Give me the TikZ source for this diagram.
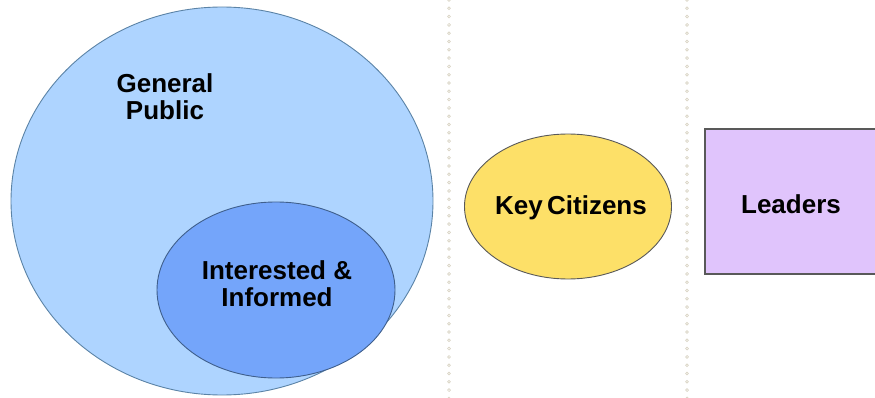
\documentclass[tikz,border=0pt]{standalone}
\usepackage{fontspec}
\setmainfont{Liberation Sans}
\usepackage{tikz}
\usetikzlibrary{shapes.geometric}

\definecolor{publicblue}{HTML}{AED4FF}
\definecolor{publicedge}{HTML}{5B83A6}
\definecolor{informedblue}{HTML}{74A5FA}
\definecolor{informededge}{HTML}{3F5F8C}
\definecolor{citizenyellow}{HTML}{FDE068}
\definecolor{leaderlilac}{HTML}{E0C4FC}
\definecolor{dotgrey}{HTML}{D9D4C4}

\tikzset{
  label text/.style={font=\fontsize{26}{27}\selectfont\bfseries, align=center, text=black},
  group/.style={ellipse, inner sep=0pt}
}

\begin{document}
\begin{tikzpicture}[x=1pt, y=-1pt]
   \useasboundingbox (0,0) rectangle (875,398);

   % dotted separators
   \foreach \sx in {449, 687}
     \foreach \sy in {0, 8.3, ..., 400}
       \draw[dotgrey, line width=0.7pt] (\sx,\sy) circle (1.4);

   % general public and the interested group inside it
   \node[group, draw=publicedge, fill=publicblue, line width=0.9pt,
         minimum width=422, minimum height=388] (public) at (222,201) {};
   \node[label text] (publictext) at (165,97) {General\\Public};
   \node[group, draw=informededge, fill=informedblue, line width=0.9pt,
         minimum width=238, minimum height=176] (informed) at (276,290) {};
   \node[label text] (informedtext) at (277,284) {Interested \&\\Informed};

   % key citizens
   \node[group, draw=black!65, fill=citizenyellow, line width=0.9pt,
         minimum width=207, minimum height=145] (citizens) at (568,206.5) {};
   \node[label text] (citizenstext) at (571,208) {Key\,Citizens};

   % leaders
   \draw[black!65, fill=leaderlilac, line width=1.5pt] (705,129) rectangle (890,274);
   \node[label text] (leaders) at (791,204) {Leaders};
\end{tikzpicture}
\end{document}
